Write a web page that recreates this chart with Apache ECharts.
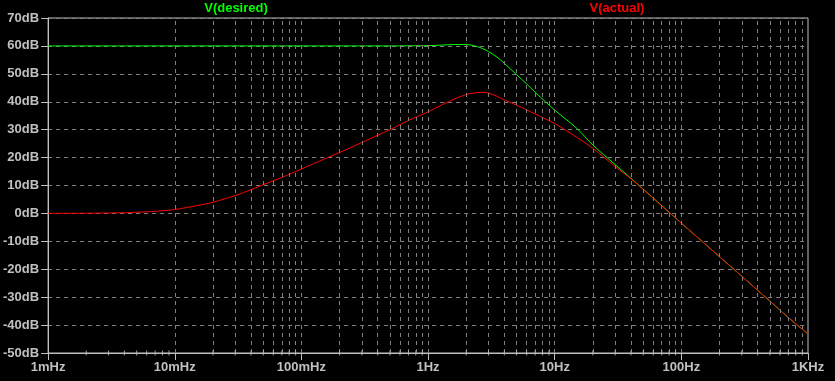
<!DOCTYPE html>
<html>
<head>
<meta charset="utf-8">
<script src="https://cdn.jsdelivr.net/npm/echarts@6/dist/echarts.min.js"></script>
<style>
html,body{margin:0;padding:0;background:#000;}
#c{width:835px;height:381px;}
</style>
</head>
<body>
<div id="c"></div>
<script>
// Frequencies (Hz)
var freq = [0.001, 0.002, 0.003, 0.004, 0.005, 0.007, 0.01, 0.015, 0.02, 0.03, 0.04, 0.05, 0.07,
  0.1, 0.15, 0.2, 0.3, 0.4, 0.5, 0.7, 1, 1.3, 1.6, 2, 2.3, 2.65, 3, 3.5, 4, 5, 6, 7, 8.5,
  10, 15, 20, 30, 40, 50, 70, 100, 150, 200, 300, 500, 700, 1000];
// V(desired) in dB
var desired = [60, 60, 60, 60, 60, 60, 60, 60, 60, 60, 60, 60, 60,
  60, 60, 60, 60, 60, 60, 60.05, 60.1, 60.3, 60.5, 60.5, 60.1, 59.2, 58, 56, 53.8, 49.7, 46.4, 43.4, 39.9,
  37.0, 30.4, 24.5, 17.5, 12.6, 8.7, 2.8, -3.5, -10.5, -15.5, -22.5, -31.4, -37.3, -43.2];
// V(actual) in dB
var actual = [0, 0.07, 0.15, 0.26, 0.4, 0.75, 1.4, 2.8, 4.0, 6.4, 8.5, 10.3, 12.9,
  15.9, 19.4, 21.8, 25.4, 28.0, 30.0, 33.3, 36.4, 39.0, 40.9, 42.6, 43.1, 43.4, 43.1, 42.0, 40.6, 38.8, 37.1, 35.6, 33.8,
  32.2, 27.2, 23.3, 16.8, 12.4, 8.6, 2.7, -3.5, -10.5, -15.5, -22.5, -31.4, -37.3, -43.2];
// Tick labels
var xTickLabels = ['1mHz', '10mHz', '100mHz', '1Hz', '10Hz', '100Hz', '1KHz'];
var minorMultipliers = [2, 3, 4, 5, 6, 7, 8, 9];
var decades = [0.001, 0.01, 0.1, 1, 10, 100];
var innerDecades = [0.01, 0.1, 1, 10, 100];
var seriesNames = ['V(desired)', 'V(actual)'];

var minorVals = [];
decades.forEach(function (d) {
  minorMultipliers.forEach(function (m) { minorVals.push(+(d * m).toPrecision(6)); });
});
var gridVals = minorVals.concat(innerDecades);

var axisColor = '#c0c0c0';
var gridColor = '#808080';
var font = 'Liberation Sans, Arial, sans-serif';

var chart = echarts.init(document.getElementById('c'), null, {renderer: 'canvas'});
chart.setOption({
  backgroundColor: '#000000',
  animation: false,
  grid: {left: 46, right: 27, top: 18, bottom: 28, show: true, borderColor: axisColor, borderWidth: 1, backgroundColor: 'transparent'},
  graphic: [
    {type: 'text', x: 236, y: 2, style: {text: seriesNames[0], fill: '#00ff00', font: 'bold 13px ' + font, textAlign: 'center'}},
    {type: 'text', x: 617, y: 2, style: {text: seriesNames[1], fill: '#ff0000', font: 'bold 13px ' + font, textAlign: 'center'}}
  ],
  xAxis: {
    type: 'log', logBase: 10, min: 0.001, max: 1000,
    axisLine: {onZero: false, lineStyle: {color: axisColor, width: 1}},
    axisTick: {show: true, length: 7, lineStyle: {color: axisColor}},
    axisLabel: {
      color: axisColor, fontFamily: font, fontWeight: 'bold', fontSize: 13, margin: 8,
      formatter: function (v) { return xTickLabels[Math.round(Math.log10(v)) + 3]; }
    },
    splitLine: {show: false}
  },
  yAxis: {
    type: 'value', min: -50, max: 70, interval: 10,
    axisLine: {show: true, onZero: false, lineStyle: {color: axisColor, width: 1}},
    axisTick: {show: true, length: 7, lineStyle: {color: axisColor}},
    axisLabel: {color: axisColor, fontFamily: font, fontWeight: 'bold', fontSize: 13, margin: 9, formatter: '{value}dB'},
    splitLine: {show: true, lineStyle: {color: gridColor, type: [4, 4], width: 1}}
  },
  series: [
    {
      name: 'vGrid', type: 'line', data: [], silent: true,
      markLine: {
        silent: true, symbol: 'none', label: {show: false}, animation: false,
        lineStyle: {color: gridColor, type: [4, 4], width: 1},
        emphasis: {disabled: true},
        data: gridVals.map(function (v) { return {xAxis: v}; })
      }
    },
    {
      name: 'minorTicks', type: 'scatter', silent: true, clip: false,
      symbol: 'rect', symbolSize: [1, 5],
      itemStyle: {color: axisColor},
      data: minorVals.map(function (v) { return [v, -50]; }),
      z: 5
    },
    {
      name: seriesNames[0], type: 'line', showSymbol: false, smooth: 0.3, silent: true,
      lineStyle: {color: '#00ff00', width: 1},
      data: freq.map(function (f, i) { return [f, desired[i]]; }),
      z: 3
    },
    {
      name: seriesNames[1], type: 'line', showSymbol: false, smooth: 0.3, silent: true,
      lineStyle: {color: '#ff0000', width: 1},
      data: freq.map(function (f, i) { return [f, actual[i]]; }),
      z: 4
    }
  ]
});
</script>
</body>
</html>
